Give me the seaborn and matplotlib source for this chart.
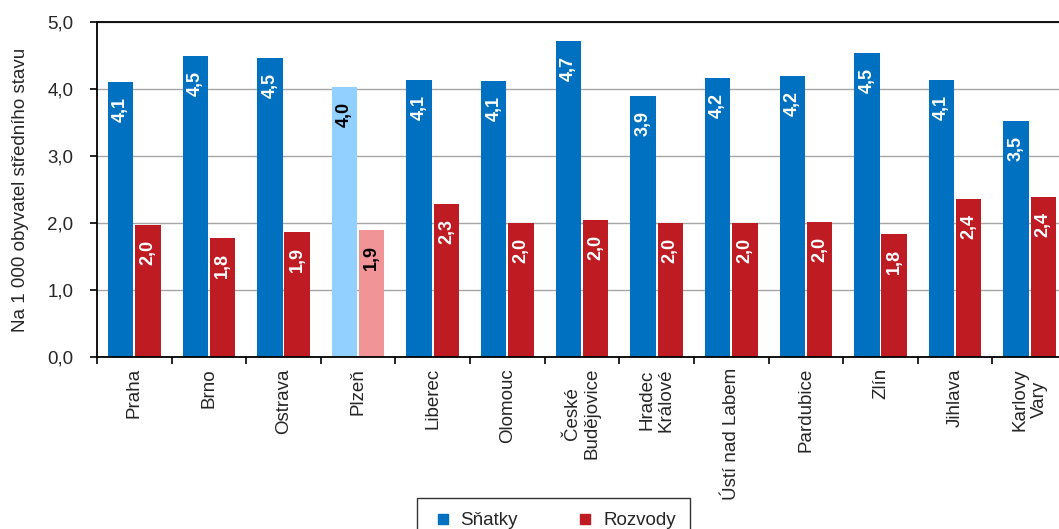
import pandas as pd
import matplotlib
matplotlib.use('Agg')
import matplotlib.pyplot as plt
import seaborn as sns
from matplotlib.lines import Line2D
from matplotlib.ticker import FuncFormatter, FixedLocator

# data
mesta = ['Praha', 'Brno', 'Ostrava', 'Plzeň', 'Liberec', 'Olomouc',
         'České\nBudějovice', 'Hradec\nKrálové', 'Ústí nad Labem',
         'Pardubice', 'Zlín', 'Jihlava', 'Karlovy\nVary']
snatky = [4.10, 4.49, 4.46, 4.03, 4.14, 4.12, 4.71, 3.89, 4.16, 4.19, 4.54, 4.13, 3.52]
rozvody = [1.97, 1.78, 1.87, 1.90, 2.28, 2.00, 2.04, 2.00, 2.00, 2.01, 1.84, 2.36, 2.39]
serie = ['Sňatky', 'Rozvody']
zvyraznene = 'Plzeň'

barvy = {'Sňatky': '#0070C0', 'Rozvody': '#BE1B23'}
barvy_svetle = {'Sňatky': '#92D1FF', 'Rozvody': '#F09498'}

df = pd.DataFrame({'mesto': mesta * 2,
                   'ukazatel': [serie[0]] * len(mesta) + [serie[1]] * len(mesta),
                   'hodnota': snatky + rozvody})

sns.set_style('white')
plt.rcParams['font.family'] = ['Liberation Sans', 'DejaVu Sans']

fig = plt.figure(figsize=(10.59, 5.29), dpi=100)
ax = fig.add_axes([97 / 1059, 172 / 529, 970 / 1059, 335 / 529])

sns.barplot(data=df, x='mesto', y='hodnota', hue='ukazatel', palette=barvy,
            width=0.73, gap=0.07, linewidth=0, saturation=1, ax=ax, legend=False)

# zvyrazneni Plzne + popisky hodnot
idx = mesta.index(zvyraznene)
for cont, s in zip(ax.containers, serie):
    for i, bar in enumerate(cont):
        barva_txt = 'white'
        if i == idx:
            bar.set_facecolor(barvy_svetle[s])
            barva_txt = 'black'
        h = bar.get_height()
        ax.annotate(f'{h:.1f}'.replace('.', ','),
                    xy=(bar.get_x() + bar.get_width() / 2, h),
                    xytext=(0, -15), textcoords='offset pixels',
                    rotation=90, ha='center', va='top',
                    fontsize=13, fontweight='bold', color=barva_txt)

ax.set_ylim(0, 5)
ax.set_xlim(-0.5, 12.5)
ax.yaxis.set_major_locator(FixedLocator([0, 1, 2, 3, 4, 5]))
ax.yaxis.set_major_formatter(FuncFormatter(lambda v, p: f'{v:.1f}'.replace('.', ',')))
ax.grid(axis='y', color='#a6a6a6', linewidth=1.0)
ax.set_axisbelow(True)

ax.set_xlabel('')
ax.set_ylabel('Na 1 000 obyvatel středního stavu', fontsize=13.5, labelpad=13)
ax.set_xticks(range(len(mesta)))
ax.set_xticklabels(mesta, rotation=90, ha='center', va='top',
                   multialignment='center', fontsize=13.5)
ax.xaxis.set_minor_locator(FixedLocator([i - 0.5 for i in range(len(mesta) + 1)]))
ax.tick_params(axis='x', which='major', length=0, pad=8)
ax.tick_params(axis='x', which='minor', bottom=True, length=5, width=1.2, color='black')
ax.tick_params(axis='y', left=True, length=5, width=1.2, color='black',
               labelsize=13.5, pad=12)

for side in ['left', 'bottom', 'top']:
    ax.spines[side].set_color('black')
    ax.spines[side].set_linewidth(1.3)
ax.spines['right'].set_visible(False)

handles = [Line2D([], [], marker='s', linestyle='', markersize=7.5,
                  color=barvy[s], label=s) for s in serie]
fig.legend(handles=handles, loc='upper center', bbox_to_anchor=(0.5227, 0.0586),
           borderaxespad=0, ncol=2, frameon=True, fancybox=False, edgecolor='black',
           fontsize=13.5, handletextpad=0.35, columnspacing=3.0,
           borderpad=0.75, handlelength=1.2)

fig.savefig('out.png', dpi=100)
